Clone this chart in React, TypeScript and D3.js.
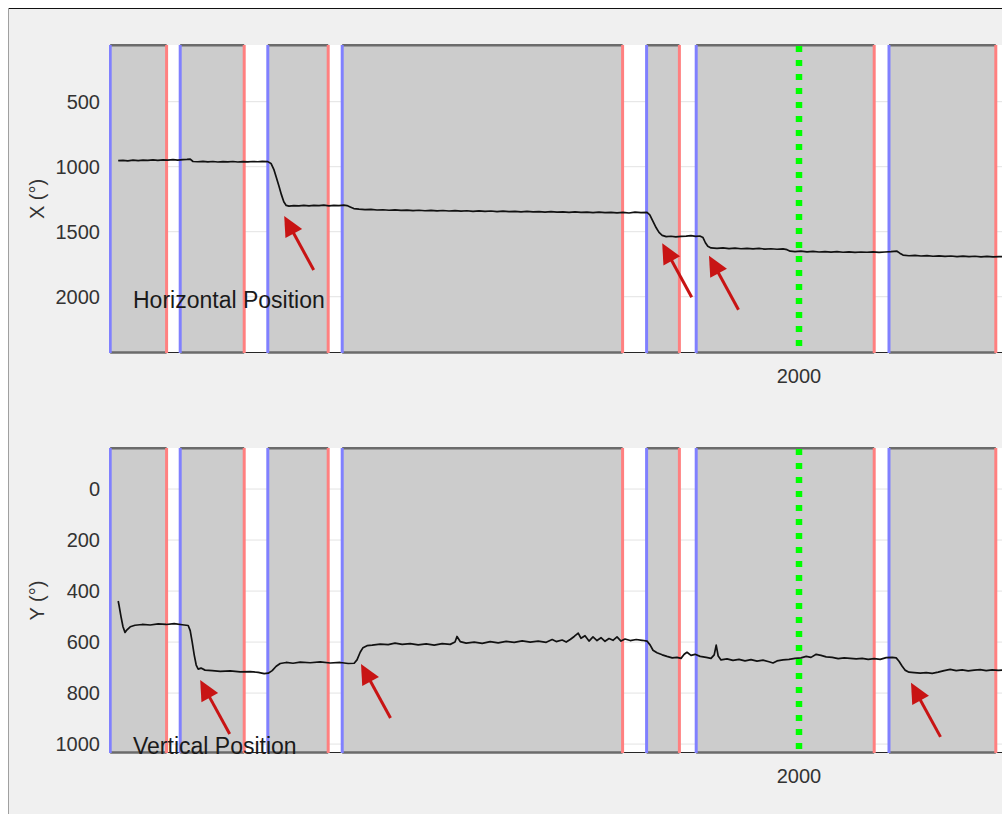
import React from "react";
import * as d3 from "d3";

// ---- data ----
const intervalStart = [278, 453, 672, 858, 1619, 1743, 2225];
const intervalEnd = [419, 613, 823, 1559, 1701, 2188, 2492];
const markerTime = 2000;
const xTicks = [2000];
const xDomain = [275, 2600];

const hTicks = [500, 1000, 1500, 2000];
const vTicks = [0, 200, 400, 600, 800, 1000];

const hTime = [298, 310, 322, 335, 348, 360, 372, 385, 397, 410, 422, 435, 447, 460, 470, 478, 485, 497, 510, 522, 535, 547, 560, 572, 585, 597, 610, 622, 635, 647, 658, 672, 680, 687, 693, 700, 706, 712, 718, 725, 737, 750, 762, 775, 787, 800, 812, 825, 837, 850, 862, 870, 878, 887, 900, 915, 930, 945, 960, 975, 990, 1005, 1020, 1035, 1050, 1065, 1080, 1095, 1110, 1125, 1140, 1155, 1170, 1185, 1200, 1215, 1230, 1245, 1260, 1275, 1290, 1305, 1320, 1335, 1350, 1365, 1380, 1395, 1410, 1425, 1440, 1455, 1470, 1485, 1500, 1515, 1530, 1545, 1560, 1575, 1590, 1605, 1620, 1627, 1635, 1643, 1650, 1658, 1668, 1680, 1692, 1705, 1718, 1730, 1742, 1752, 1760, 1766, 1772, 1780, 1795, 1810, 1825, 1840, 1855, 1870, 1885, 1900, 1915, 1930, 1945, 1960, 1970, 1978, 1990, 2005, 2020, 2035, 2050, 2065, 2080, 2095, 2110, 2125, 2140, 2155, 2170, 2185, 2200, 2215, 2230, 2245, 2252, 2260, 2275, 2290, 2305, 2320, 2335, 2350, 2365, 2380, 2395, 2410, 2425, 2440, 2455, 2470, 2485, 2500, 2515];
const hValue = [954, 951, 955, 950, 953, 949, 952, 948, 951, 947, 950, 946, 949, 945, 944, 942, 960, 962, 959, 963, 960, 964, 961, 963, 960, 964, 961, 963, 960, 962, 959, 961, 975, 1020, 1080, 1150, 1215, 1270, 1298, 1303, 1299, 1302, 1298, 1301, 1297, 1300, 1296, 1301, 1298, 1300, 1296, 1299, 1310, 1322, 1327, 1330, 1328, 1333, 1331, 1335, 1332, 1336, 1334, 1338, 1335, 1339, 1336, 1340, 1337, 1341, 1338, 1342, 1339, 1343, 1340, 1344, 1341, 1345, 1342, 1346, 1343, 1347, 1344, 1348, 1345, 1349, 1346, 1350, 1347, 1351, 1348, 1352, 1349, 1353, 1350, 1354, 1351, 1355, 1352, 1356, 1350, 1354, 1352, 1370, 1420, 1470, 1505, 1528, 1538, 1535, 1540, 1536, 1534, 1530, 1536, 1533, 1545, 1585, 1612, 1625, 1628, 1624, 1630, 1627, 1631, 1628, 1632, 1629, 1634, 1631, 1635, 1632, 1638, 1650, 1653, 1650, 1655, 1652, 1656, 1653, 1657, 1654, 1658, 1655, 1659, 1656, 1658, 1655, 1659, 1656, 1654, 1650, 1665, 1680, 1685, 1682, 1687, 1684, 1689, 1686, 1690, 1687, 1691, 1688, 1692, 1689, 1693, 1690, 1694, 1691, 1693];

const vTime = [298, 300, 305, 310, 315, 320, 328, 340, 358, 378, 398, 418, 438, 458, 473, 478, 483, 488, 493, 498, 505, 515, 533, 553, 578, 603, 628, 648, 663, 673, 683, 693, 703, 718, 735, 753, 778, 803, 828, 853, 873, 888, 895, 903, 910, 920, 933, 953, 973, 990, 1008, 1028, 1048, 1068, 1088, 1108, 1128, 1140, 1145, 1153, 1168, 1188, 1208, 1228, 1248, 1268, 1288, 1308, 1328, 1348, 1368, 1383, 1393, 1408, 1418, 1428, 1438, 1448, 1455, 1465, 1475, 1485, 1495, 1505, 1515, 1525, 1535, 1545, 1555, 1565, 1578, 1593, 1608, 1620, 1628, 1635, 1645, 1658, 1670, 1683, 1695, 1705, 1713, 1720, 1730, 1740, 1753, 1768, 1780, 1788, 1793, 1798, 1805, 1820, 1835, 1850, 1865, 1880, 1895, 1910, 1925, 1935, 1945, 1960, 1975, 1990, 2005, 2018, 2030, 2043, 2055, 2068, 2083, 2098, 2113, 2128, 2143, 2158, 2173, 2188, 2203, 2218, 2233, 2243, 2250, 2258, 2265, 2275, 2288, 2303, 2318, 2333, 2348, 2363, 2378, 2393, 2408, 2423, 2438, 2453, 2468, 2483, 2498, 2513];
const vValue = [439, 455, 500, 540, 562, 552, 540, 534, 531, 533, 529, 531, 528, 532, 535, 555, 600, 650, 690, 706, 702, 710, 712, 715, 713, 717, 716, 719, 724, 722, 712, 695, 684, 680, 683, 679, 681, 678, 682, 680, 684, 683, 670, 640, 622, 614, 612, 608, 610, 604, 609, 606, 611, 607, 612, 606, 609, 600, 578, 598, 604, 600, 605, 598, 603, 597, 601, 595, 600, 596, 601, 590, 598, 592, 600, 590, 578, 565, 585, 575, 596, 580, 594, 583, 597, 586, 593, 580, 596, 588, 594, 590, 593, 596, 612, 632, 642, 650, 656, 662, 660, 664, 648, 640, 652, 648, 656, 660, 664, 650, 612, 655, 670, 666, 672, 668, 674, 669, 675, 671, 677, 682, 674, 670, 668, 664, 662, 656, 660, 648, 652, 658, 660, 665, 662, 664, 666, 664, 668, 665, 668, 661, 660, 662, 675, 695, 710, 718, 720, 722, 720, 723, 718, 712, 707, 712, 709, 713, 710, 708, 712, 709, 711, 710];

const hArrowTime = [713, 1658, 1775];
const hArrowValue = [1379, 1589, 1685];
const vArrowTime = [503, 905, 2280];
const vArrowValue = [749, 686, 760];

const FONT = "'Liberation Sans', Arial, Helvetica, sans-serif";

type PanelProps = {
  top: number;
  bottom: number;
  yDomain: number[];
  yTicks: number[];
  yLabel: string;
  times: number[];
  values: number[];
  arrowT: number[];
  arrowV: number[];
  label: string;
  labelT: number;
  labelV: number;
  id: string;
};

function Panel(p: PanelProps) {
  const left = 109;
  const right = 1039;
  const x = d3.scaleLinear().domain(xDomain).range([left, right]);
  const y = d3.scaleLinear().domain(p.yDomain).range([p.top, p.bottom]);
  const line = d3
    .line<number>()
    .x((d, i) => x(p.times[i]))
    .y((d) => y(d));
  const path = line(p.values) || "";
  const clipId = "clip-" + p.id;
  const arrows = p.arrowT.map((t, i) => {
    const tipX = x(t);
    const tipY = y(p.arrowV[i]);
    const tailX = tipX + 29.5;
    const tailY = tipY + 54;
    const dx = tipX - tailX;
    const dy = tipY - tailY;
    const len = Math.hypot(dx, dy);
    const ux = dx / len;
    const uy = dy / len;
    const bx = tipX - ux * 20;
    const by = tipY - uy * 20;
    const px = -uy;
    const py = ux;
    return (
      <g key={i}>
        <line x1={tailX} y1={tailY} x2={bx + ux * 2} y2={by + uy * 2} stroke="#c81414" strokeWidth={3} />
        <polygon
          points={`${tipX},${tipY} ${bx + px * 9.5},${by + py * 9.5} ${bx - px * 9.5},${by - py * 9.5}`}
          fill="#c81414"
        />
      </g>
    );
  });
  return (
    <g>
      <defs>
        <clipPath id={clipId}>
          <rect x={left} y={p.top - 2} width={right - left} height={p.bottom - p.top + 4} />
        </clipPath>
      </defs>
      <g clipPath={`url(#${clipId})`}>
        <rect x={left} y={p.top} width={right - left} height={p.bottom - p.top} fill="#ffffff" />
        {p.yTicks.map((t) => (
          <line key={t} x1={left} x2={right} y1={y(t)} y2={y(t)} stroke="#e3e3e3" strokeWidth={1} />
        ))}
        <line x1={left} x2={right} y1={p.bottom - 0.5} y2={p.bottom - 0.5} stroke="#262626" strokeWidth={1} />
        {intervalStart.map((s, i) => (
          <rect
            key={"r" + i}
            x={x(s)}
            y={p.top}
            width={x(intervalEnd[i]) - x(s)}
            height={p.bottom - p.top}
            fill="#cccccc"
          />
        ))}
        {intervalStart.map((s, i) => (
          <g key={"e" + i}>
            <line x1={x(s)} x2={x(intervalEnd[i])} y1={p.top + 0.3} y2={p.top + 0.3} stroke="#6b6b6b" strokeWidth={2.5} />
            <line x1={x(s)} x2={x(intervalEnd[i])} y1={p.bottom - 0.5} y2={p.bottom - 0.5} stroke="#6b6b6b" strokeWidth={2.5} />
          </g>
        ))}
        {intervalStart.map((s, i) => (
          <line key={"b" + i} x1={x(s)} x2={x(s)} y1={p.top} y2={p.bottom} stroke="#8080ff" strokeWidth={3} />
        ))}
        {intervalEnd.map((s, i) => (
          <line key={"rd" + i} x1={x(s)} x2={x(s)} y1={p.top} y2={p.bottom} stroke="#ff8080" strokeWidth={3} />
        ))}
        <path d={path} fill="none" stroke="#111111" strokeWidth={1.7} strokeLinejoin="round" />
        <line
          x1={x(markerTime)}
          x2={x(markerTime)}
          y1={p.top + 1}
          y2={p.bottom - 4}
          stroke="#00ff00"
          strokeWidth={6.5}
          strokeDasharray="6 8"
        />
        {arrows}
      </g>
      <text x={x(p.labelT)} y={y(p.labelV)} fontFamily={FONT} fontSize={23} fill="#1a1a1a">
        {p.label}
      </text>
      {p.yTicks.map((t) => (
        <text
          key={"t" + t}
          x={100}
          y={y(t)}
          dy="0.35em"
          textAnchor="end"
          fontFamily={FONT}
          fontSize={20}
          fill="#333333"
        >
          {t}
        </text>
      ))}
      {xTicks.map((t) => (
        <text key={"x" + t} x={x(t)} y={p.bottom + 30} textAnchor="middle" fontFamily={FONT} fontSize={20} fill="#333333">
          {t}
        </text>
      ))}
      <text
        transform={`translate(44,${(p.top + p.bottom) / 2}) rotate(-90)`}
        textAnchor="middle"
        fontFamily={FONT}
        fontSize={20}
        fill="#333333"
      >
        {p.yLabel}
      </text>
    </g>
  );
}

export default function App() {
  return (
    <svg
      width={1002}
      height={814}
      style={{ position: "absolute", left: 0, top: 0, display: "block" }}
    >
      <rect x={0} y={0} width={1002} height={814} fill="#ffffff" />
      <rect x={8} y={8} width={994} height={806} fill="#f0f0f0" />
      <line x1={8} x2={1002} y1={8.5} y2={8.5} stroke="#111" strokeWidth={1.2} />
      <line x1={8.5} x2={8.5} y1={8} y2={814} stroke="#a0a0a0" strokeWidth={1} />
      <Panel
        id="h"
        top={45}
        bottom={353}
        yDomain={[64, 2433]}
        yTicks={hTicks}
        yLabel="X (°)"
        times={hTime}
        values={hValue}
        arrowT={hArrowTime}
        arrowV={hArrowValue}
        label="Horizontal Position"
        labelT={335}
        labelV={2087}
      />
      <Panel
        id="v"
        top={448}
        bottom={753}
        yDomain={[-161, 1035]}
        yTicks={vTicks}
        yLabel="Y (°)"
        times={vTime}
        values={vValue}
        arrowT={vArrowTime}
        arrowV={vArrowValue}
        label="Vertical Position"
        labelT={335}
        labelV={1039}
      />
    </svg>
  );
}
